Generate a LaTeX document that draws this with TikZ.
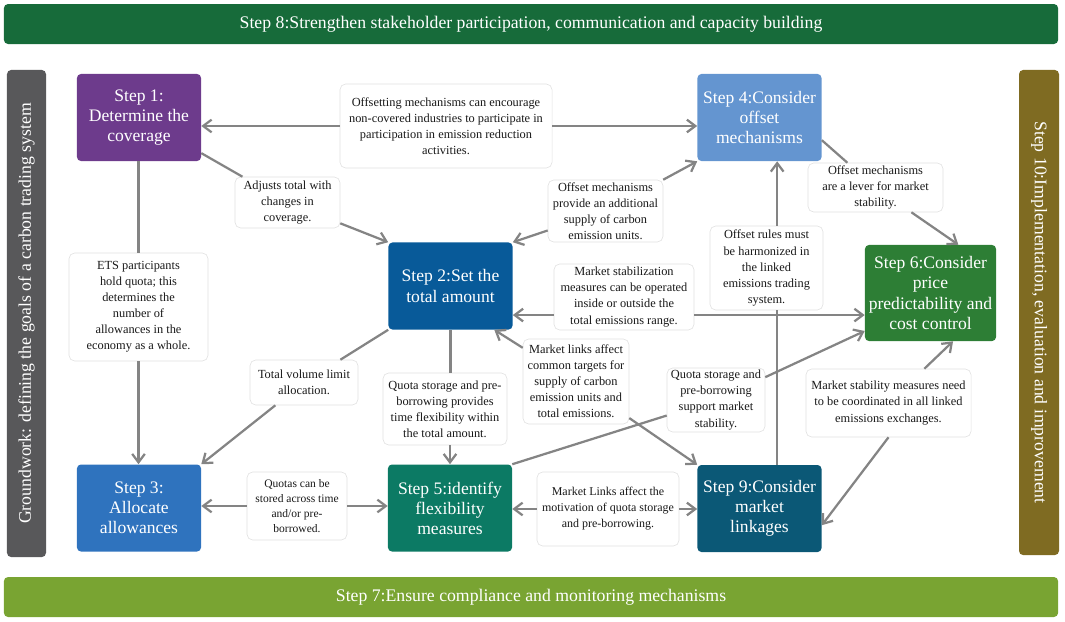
\documentclass[tikz,border=0pt]{standalone}
\usepackage{fontspec}
\setmainfont{Liberation Serif}
\usetikzlibrary{arrows.meta}

\definecolor{stakegreen}{HTML}{176B3A}
\definecolor{complygreen}{HTML}{79A432}
\definecolor{groundgray}{HTML}{58585A}
\definecolor{implolive}{HTML}{7F6B22}
\definecolor{coverpurple}{HTML}{6D3B8C}
\definecolor{totalblue}{HTML}{085A99}
\definecolor{allocblue}{HTML}{2F73BE}
\definecolor{offsetblue}{HTML}{6495D0}
\definecolor{flexteal}{HTML}{0C7A64}
\definecolor{pricegreen}{HTML}{2D7E35}
\definecolor{marketteal}{HTML}{0B5876}
\definecolor{linkgray}{HTML}{848484}

\begin{document}
\begin{tikzpicture}[x=0.025cm, y=-0.025cm,
    stepbox/.style={rounded corners=2.8pt, text=white, align=center, inner sep=1pt,
        minimum width=3.1cm, minimum height=2.175cm, font=\fontsize{12.5}{14.3}\selectfont},
    note/.style={draw=black!12, fill=white, rounded corners=4pt, align=center, inner sep=1pt,
        text=black!90, font=\fontsize{8.8}{11.4}\selectfont},
    bar/.style={rounded corners=3pt, text=white, inner sep=0pt, font=\fontsize{12.6}{14}\selectfont},
    link/.style={draw=linkgray, line width=1.6pt},
    conn/.style={link, -{Straight Barb[length=6pt,width=9pt]}}]
\useasboundingbox (0,0) rectangle (1065,621);

% Frame bars round the diagram
\node[bar, fill=stakegreen, minimum width=26.35cm, minimum height=1cm] (step8) at (531,24)
    {Step 8:Strengthen stakeholder participation, communication and capacity building};
\node[bar, fill=complygreen, minimum width=26.35cm, minimum height=1cm] (step7) at (531,597)
    {Step 7:Ensure compliance and monitoring mechanisms};
\node[bar, fill=groundgray, rotate=90, minimum width=12.175cm, minimum height=0.975cm] (ground) at (26.5,313.5)
    {Groundwork: defining the goals of a carbon trading system};
\node[bar, fill=implolive, rotate=-90, minimum width=12.125cm, minimum height=1cm] (step10) at (1039,312.5)
    {Step 10:Implementation, evaluation and improvement};

% Steps
\node[stepbox, fill=coverpurple] (s1) at (139,117.5) {Step 1:\\Determine the\\coverage};
\node[stepbox, fill=offsetblue] (s4) at (759.5,117.5) {Step 4:Consider\\offset\\mechanisms};
\node[stepbox, fill=totalblue] (s2) at (450.5,286) {Step 2:Set the\\total amount};
\node[stepbox, fill=pricegreen, minimum width=3.275cm, minimum height=2.4cm] (s6) at (930.5,293)
    {Step 6:Consider\\price\\predictability and\\cost control};
\node[stepbox, fill=allocblue] (s3) at (139,508) {Step 3:\\Allocate\\allowances};
\node[stepbox, fill=flexteal] (s5) at (450,508) {Step 5:identify\\flexibility\\measures};
\node[stepbox, fill=marketteal] (s9) at (759.5,508.5) {Step 9:Consider\\market\\linkages};

% Notes on the links
\node[note, minimum width=5.3cm, minimum height=2.1cm] (l1) at (446,126)
    {Offsetting mechanisms can encourage\\non-covered industries to participate in\\participation in emission reduction\\activities.};
\node[note, minimum width=2.625cm, minimum height=1.275cm] (l2) at (287.5,202.5)
    {Adjusts total with\\changes in\\coverage.};
\node[note, minimum width=2.875cm, minimum height=1.55cm] (l3) at (605.5,211)
    {Offset mechanisms\\provide an additional\\supply of carbon\\emission units.};
\node[note, minimum width=3.375cm, minimum height=1.225cm] (l4) at (875.5,187.5)
    {Offset mechanisms\\are a lever for market\\stability.};
\node[note, minimum width=2.825cm, minimum height=2.1cm] (l5) at (766.5,268)
    {Offset rules must\\be harmonized in\\the linked\\emissions trading\\system.};
\node[note, minimum width=3.475cm, minimum height=2.7cm] (l6) at (138.5,307)
    {ETS participants\\hold quota; this\\determines the\\number of\\allowances in the\\economy as a whole.};
\node[note, minimum width=3.5cm, minimum height=1.65cm] (l7) at (624,297)
    {Market stabilization\\measures can be operated\\inside or outside the\\total emissions range.};
\node[note, minimum width=2.65cm, minimum height=2.125cm] (l8) at (576,381.5)
    {Market links affect\\common targets for\\supply of carbon\\emission units and\\total emissions.};
\node[note, minimum width=2.7cm, minimum height=1.125cm] (l9) at (304,382.5)
    {Total volume limit\\allocation.};
\node[note, minimum width=3.1cm, minimum height=1.8cm] (l10) at (445,409)
    {Quota storage and pre-\\borrowing provides\\time flexibility within\\the total amount.};
\node[note, minimum width=2.45cm, minimum height=1.6cm] (l11) at (716,400)
    {Quota storage and\\pre-borrowing\\support market\\stability.};
\node[note, minimum width=4.125cm, minimum height=1.7cm] (l12) at (888.5,403)
    {Market stability measures need\\to be coordinated in all linked\\emissions exchanges.};
\node[note, minimum width=2.5cm, minimum height=1.7cm, font=\fontsize{8.2}{10.8}\selectfont] (l13) at (297,506)
    {Quotas can be\\stored across time\\and/or pre-\\borrowed.};
\node[note, minimum width=3.55cm, minimum height=1.85cm, font=\fontsize{8.5}{11.4}\selectfont] (l14) at (608,509)
    {Market Links affect the\\motivation of quota storage\\and pre-borrowing.};

% Notes pointing both ways along a row
\foreach \n/\a/\b in {l1/s1/s4, l13/s3/s5, l14/s5/s9} {
    \draw[conn] (\n.west) -- (\n.west -| \a.east);
    \draw[conn] (\n.east) -- (\n.east -| \b.west);
}

% Other links
\draw[link] (s1) -- (l2);
\draw[conn] (l2) -- (s2.north west);
\draw[conn] (l3) -- (s4.south west);
\draw[conn] (l3) -- (s2.north east);
\draw[link] (s4.-20) -- (l4);
\draw[conn] (l4) -- (s6.60);
\draw[link] (s9.68) -- (s9.68 |- l5.south);
\draw[conn] (s9.68 |- l5.north) -- (s9.68 |- s4.south);
\draw[link] (l6.north) -- (l6.north |- s1.south);
\draw[conn] (l6.south) -- (l6.south |- s3.north);
\draw[conn] (l7.west |- s2.-25) -- (s2.-25);
\draw[conn] (l7.east |- s2.-25) -- (s2.-25 -| s6.west);
\draw[conn] (l8) -- (s2.-45);
\draw[conn] (l8) -- (s9.north west);
\draw[link] (s2.south west) -- (l9);
\draw[conn] (l9) -- (s3.north east);
\draw[link] (s2.south) -- (s2.south |- l10.north);
\draw[conn] (l10.south -| s5.north) -- (s5.north);
\draw[link] (s5.north east) -- (l11);
\draw[conn] (l11) -- (s6.210);
\draw[conn] (l12) -- (s6.-65);
\draw[conn] (l12.south) -- (s9.-15);
\end{tikzpicture}
\end{document}
